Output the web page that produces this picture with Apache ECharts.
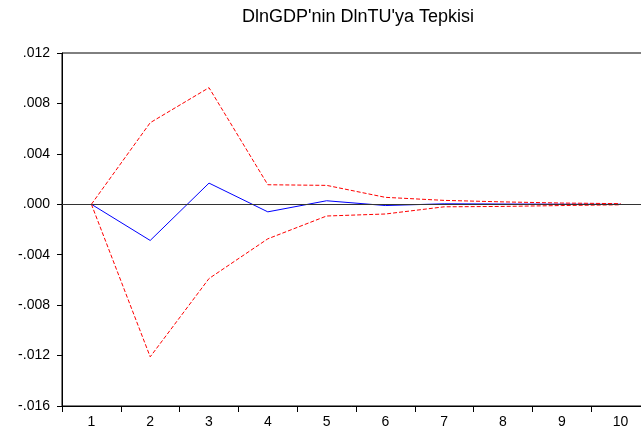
<!DOCTYPE html>
<html lang="tr">
<head>
    <meta charset="UTF-8">
    <title>DlnGDP'nin DlnTU'ya Tepkisi</title>
    <script src="https://cdn.jsdelivr.net/npm/echarts@6/dist/echarts.min.js"></script>
    <style>
        html, body { margin: 0; padding: 0; background: #fff; overflow: hidden; }
        #main { width: 641px; height: 436px; }
    </style>
</head>
<body>
    <div id="main"></div>
<script>
    // donemler (x ekseni)
    var periods = ['1', '2', '3', '4', '5', '6', '7', '8', '9', '10'];
    // tepki fonksiyonu
    var response = [0, -0.00287, 0.00168, -0.0006, 0.00028, -0.0001, 0.00004, 0.00002, 0.00001, 0.0];
    // +/- 2 standart hata bantlari
    var upperBand = [0, 0.00647, 0.00925, 0.00155, 0.0015, 0.00055, 0.00031, 0.00019, 0.0001, 0.00005];
    var lowerBand = [0, -0.0121, -0.00589, -0.00274, -0.00093, -0.00077, -0.0002, -0.00017, -0.0001, -0.00004];

    var yMin = -0.016, yMax = 0.012, yStep = 0.004;

    var myChart = echarts.init(document.getElementById('main'));

    // .012, -.004 gibi etiketler
    function fmt(v) {
        var s = Math.abs(v).toFixed(3).replace(/^0/, '');
        return (v < -1e-9 ? '-' : '') + s;
    }

    var dashed = { color: '#ff0000', width: 1, type: [4, 2] };

    var option = {
        animation: false,
        backgroundColor: '#fff',
        textStyle: { fontFamily: 'Liberation Sans, Arial, sans-serif' },
        // baslik grafik cercevesinin ortasinda
        title: {
            text: "DlnGDP'nin DlnTU'ya Tepkisi",
            left: 237,
            top: 3,
            textStyle: { fontSize: 18, fontWeight: 'normal', color: '#000', fontFamily: 'Liberation Sans' }
        },
        // sag kenar pencerenin disina tasiyor (orijinalde de kesik)
        grid: {
            left: 62, top: 53, width: 588, height: 353,
            outerBoundsMode: 'none',
            show: true, borderColor: '#000', borderWidth: 1
        },
        xAxis: {
            type: 'category',
            data: periods,
            boundaryGap: true,
            axisLine: { onZero: false, lineStyle: { color: '#000', width: 1 } },
            axisTick: { show: true, length: 6, lineStyle: { color: '#000' } },
            axisLabel: { color: '#000', fontSize: 14, margin: 9 },
            splitLine: { show: false }
        },
        yAxis: {
            type: 'value',
            min: yMin, max: yMax, interval: yStep,
            axisLine: { show: true, lineStyle: { color: '#000', width: 1 } },
            axisTick: { show: true, length: 5, lineStyle: { color: '#000' } },
            axisLabel: { color: '#000', fontSize: 14, margin: 12, formatter: fmt },
            splitLine: { show: false }
        },
        series: [
            {
                name: 'upper',
                type: 'line',
                data: upperBand,
                symbol: 'none',
                lineStyle: dashed,
                z: 3
            },
            {
                name: 'lower',
                type: 'line',
                data: lowerBand,
                symbol: 'none',
                lineStyle: dashed,
                z: 3
            },
            {
                name: 'response',
                type: 'line',
                data: response,
                symbol: 'none',
                lineStyle: { color: '#0000ff', width: 1 },
                z: 2,
                markLine: {
                    silent: true,
                    symbol: 'none',
                    label: { show: false },
                    lineStyle: { color: '#333', width: 1, type: 'solid' },
                    data: [{ yAxis: 0 }]
                }
            }
        ]
    };
    myChart.setOption(option);
</script>
</body>
</html>
